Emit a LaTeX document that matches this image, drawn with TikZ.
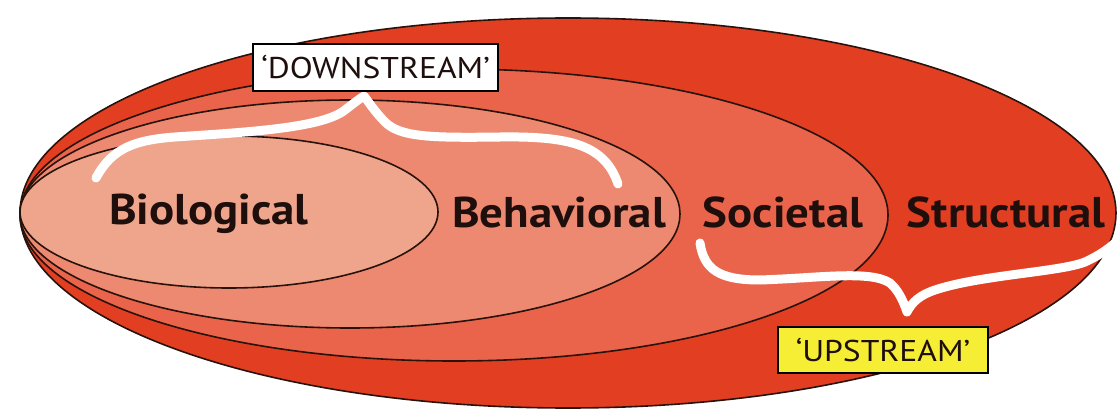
\documentclass[tikz,border=0pt]{standalone}
\usepackage{fontspec}
\setmainfont{PT Sans}
\newfontfamily\regionfont[FakeStretch=1.09]{PT Sans}
\newfontfamily\tagfont[FakeStretch=1.12]{PT Sans}
\definecolor{cStruct}{RGB}{226,62,34}
\definecolor{cSoc}{RGB}{233,100,75}
\definecolor{cBeh}{RGB}{237,137,112}
\definecolor{cBio}{RGB}{239,165,140}
\definecolor{cLine}{RGB}{40,18,12}
\definecolor{cText}{RGB}{30,14,12}
\definecolor{cYel}{RGB}{246,238,52}
\tikzset{
  ring/.style={draw=cLine, line width=1.6pt},
  region/.style={font=\regionfont\bfseries\fontsize{43}{50}\selectfont, text=cText, anchor=base, inner sep=0pt},
  tagbox/.style={draw=black, line width=2pt, inner sep=0pt, font=\tagfont\fontsize{30}{34}\selectfont, text=cText},
  bracestroke/.style={draw=white, line width=9pt, line cap=round, line join=round}
}
\begin{document}
\begin{tikzpicture}[x=1pt,y=-1pt]
\useasboundingbox (0,0) rectangle (1120,409);
% nested ellipses
\path[ring, fill=cStruct] (568,213) ellipse [x radius=548pt, y radius=195pt];
\path[ring, fill=cSoc] (454,215) ellipse [x radius=434pt, y radius=146pt];
\path[ring, fill=cBeh] (350,214) ellipse [x radius=330pt, y radius=114pt];
\path[ring, fill=cBio] (229,212) ellipse [x radius=209pt, y radius=76pt];
% labels
\node[region] (bio) at (209,225) {Biological};
\node[region] (beh) at (559,227) {Behavioral};
\node[region] (soc) at (783,227) {Societal};
\node[region] (str) at (1006,227) {Structural};
% braces
\draw[bracestroke] (96,178) .. controls (112,148) and (135,140) .. (175,137)
  .. controls (250,132) and (322,128) .. (345,110)
  .. controls (354,103) and (359,99) .. (364,96)
  .. controls (368,101) and (375,112) .. (385,122)
  .. controls (400,137) and (430,138) .. (500,137)
  .. controls (570,136) and (605,145) .. (618,184);
\draw[bracestroke] (700,243) .. controls (704,270) and (720,280) .. (760,280)
  .. controls (820,278) and (870,270) .. (890,283)
  .. controls (898,290) and (903,300) .. (907,312)
  .. controls (912,302) and (920,295) .. (935,290)
  .. controls (980,275) and (1060,272) .. (1085,262)
  .. controls (1100,255) and (1110,248) .. (1118,240);
% tags
\node[tagbox, fill=white, minimum width=245pt, minimum height=47pt] (down) at (375.5,67.5) {‘DOWNSTREAM’};
\node[tagbox, fill=cYel, minimum width=210pt, minimum height=46pt] (up) at (883,350) {‘UPSTREAM’};
\end{tikzpicture}
\end{document}
